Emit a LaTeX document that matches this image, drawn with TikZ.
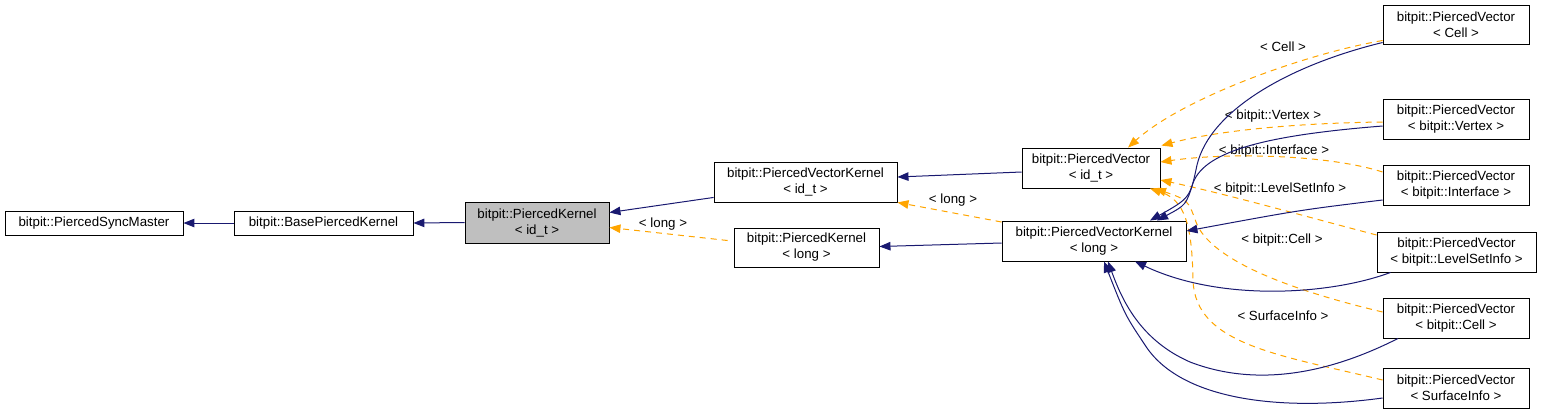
\documentclass[tikz,border=0pt]{standalone}
\usepackage{fontspec}
\setmainfont{Liberation Sans}
\usetikzlibrary{arrows.meta}
\definecolor{edgeblue}{HTML}{191970}
\definecolor{edgeorange}{HTML}{FFA500}
\definecolor{focusgray}{HTML}{BFBFBF}
\begin{document}
\begin{tikzpicture}[x=1pt,y=-1pt,
  box/.style={draw=black,line width=0.9pt,fill=white,rectangle,inner sep=0pt,align=center,
    font=\fontsize{13.3}{16}\selectfont},
  lbl/.style={inner sep=0pt,font=\fontsize{13.3}{16}\selectfont},
  inh/.style={draw=edgeblue,line width=1pt,-{Triangle[length=11pt,width=8.5pt]}},
  tpl/.style={draw=edgeorange,line width=1pt,dash pattern=on 6pt off 5pt,
    -{Triangle[length=11pt,width=8.5pt]}}]
\useasboundingbox (0,0) rectangle (1541,413);
% nodes
\node[box,minimum width=178pt,minimum height=24pt] (sync) at (94,223) {bitpit::PiercedSyncMaster};
\node[box,minimum width=179pt,minimum height=24pt] (base) at (323.5,223) {bitpit::BasePiercedKernel};
\node[box,fill=focusgray,minimum width=144pt,minimum height=41pt] (pkid) at (537,222.5) {bitpit::PiercedKernel\\< id\_t >};
\node[box,minimum width=183pt,minimum height=40pt] (pvkid) at (805.5,182) {bitpit::PiercedVectorKernel\\< id\_t >};
\node[box,minimum width=145pt,minimum height=39pt] (pklong) at (806.5,247.5) {bitpit::PiercedKernel\\< long >};
\node[box,minimum width=138pt,minimum height=40pt] (pvid) at (1091,168) {bitpit::PiercedVector\\< id\_t >};
\node[box,minimum width=184pt,minimum height=40pt] (pvklong) at (1094,241) {bitpit::PiercedVectorKernel\\< long >};
\node[box,minimum width=146pt,minimum height=39pt] (pvcell) at (1456,24.5) {bitpit::PiercedVector\\< Cell >};
\node[box,minimum width=146pt,minimum height=40pt] (pvvertex) at (1456,119) {bitpit::PiercedVector\\< bitpit::Vertex >};
\node[box,minimum width=146pt,minimum height=40pt] (pvinter) at (1456,185) {bitpit::PiercedVector\\< bitpit::Interface >};
\node[box,minimum width=159pt,minimum height=40pt] (pvlevel) at (1456.5,252) {bitpit::PiercedVector\\< bitpit::LevelSetInfo >};
\node[box,minimum width=146pt,minimum height=40pt] (pvbcell) at (1456,318) {bitpit::PiercedVector\\< bitpit::Cell >};
\node[box,minimum width=146pt,minimum height=40pt] (pvsurf) at (1456,388) {bitpit::PiercedVector\\< SurfaceInfo >};
% labels
\node[lbl] (l1) at (663,224) {< long >};
\node[lbl] (l2) at (953,200) {< long >};
\node[lbl] (l3) at (1283,47) {< Cell >};
\node[lbl] (l4) at (1273,116) {< bitpit::Vertex >};
\node[lbl] (l5) at (1274,151) {< bitpit::Interface >};
\node[lbl] (l6) at (1280,189) {< bitpit::LevelSetInfo >};
\node[lbl] (l7) at (1282,240) {< bitpit::Cell >};
\node[lbl] (l8) at (1283,316) {< SurfaceInfo >};
% left edges
\draw[inh] (base.west) -- (sync.east);
\draw[inh] (pkid.west) -- (base.east);
\draw[inh] ([yshift=5pt]pvkid.south west) -- ([yshift=10pt]pkid.east);
\draw[tpl] ([xshift=-6pt,yshift=7pt]pklong.west) -- ([yshift=-5pt]pkid.east);
\draw[inh] ([yshift=-4pt]pvid.west) -- ([yshift=5pt]pvkid.east);
\draw[tpl] ([yshift=19pt]pvklong.west) -- (pvkid.south east);
\draw[inh] ([yshift=-2pt]pvklong.west) -- ([yshift=1pt]pklong.east);
% right edges: template instantiations (orange)
\draw[tpl] ([yshift=-16pt]pvcell.west) .. controls (1300,55) and (1180,100) .. ([xshift=37pt]pvid.north);
\draw[tpl] ([yshift=-3pt]pvvertex.west) .. controls (1300,123) and (1220,130) .. ([xshift=1pt,yshift=2pt]pvid.north east);
\draw[tpl] ([yshift=13pt]pvinter.west) .. controls (1330,155) and (1230,152) .. ([yshift=6pt]pvid.east);
\draw[tpl] ([yshift=17pt]pvlevel.west) .. controls (1300,215) and (1230,195) .. ([yshift=-12pt]pvid.east);
\draw[tpl] ([yshift=6pt]pvbcell.west) .. controls (1290,290) and (1210,260) .. (1196,222) .. controls (1188,200) .. ([xshift=64pt]pvid.south);
\draw[tpl] ([yshift=8pt]pvsurf.west) .. controls (1280,355) and (1195,345) .. (1193,280) .. controls (1192,225) and (1185,200) .. ([xshift=59pt]pvid.south);
% right edges: inheritance (blue)
\draw[inh] ([yshift=-18pt]pvcell.west) .. controls (1290,65) and (1210,110) .. (1197,165) .. controls (1190,198) .. ([xshift=56pt]pvklong.north);
\draw[inh] ([yshift=-7pt]pvvertex.west) .. controls (1270,135) and (1205,150) .. (1193,183) .. controls (1186,205) .. ([xshift=63pt]pvklong.north);
\draw[inh] ([yshift=-15pt]pvinter.west) .. controls (1300,210) .. ([yshift=10pt]pvklong.east);
\draw[inh] ([xshift=-66pt]pvlevel.south) .. controls (1330,295) and (1220,302) .. ([xshift=41pt]pvklong.south);
\draw[inh] ([xshift=-58pt]pvbcell.south) .. controls (1320,378) and (1250,385) .. (1190,362) .. controls (1140,340) and (1122,300) .. ([xshift=14pt]pvklong.south);
\draw[inh] ([yshift=-10pt]pvsurf.west) .. controls (1280,412) and (1180,400) .. (1145,345) .. controls (1125,315) .. ([xshift=10pt]pvklong.south);
\end{tikzpicture}
\end{document}
